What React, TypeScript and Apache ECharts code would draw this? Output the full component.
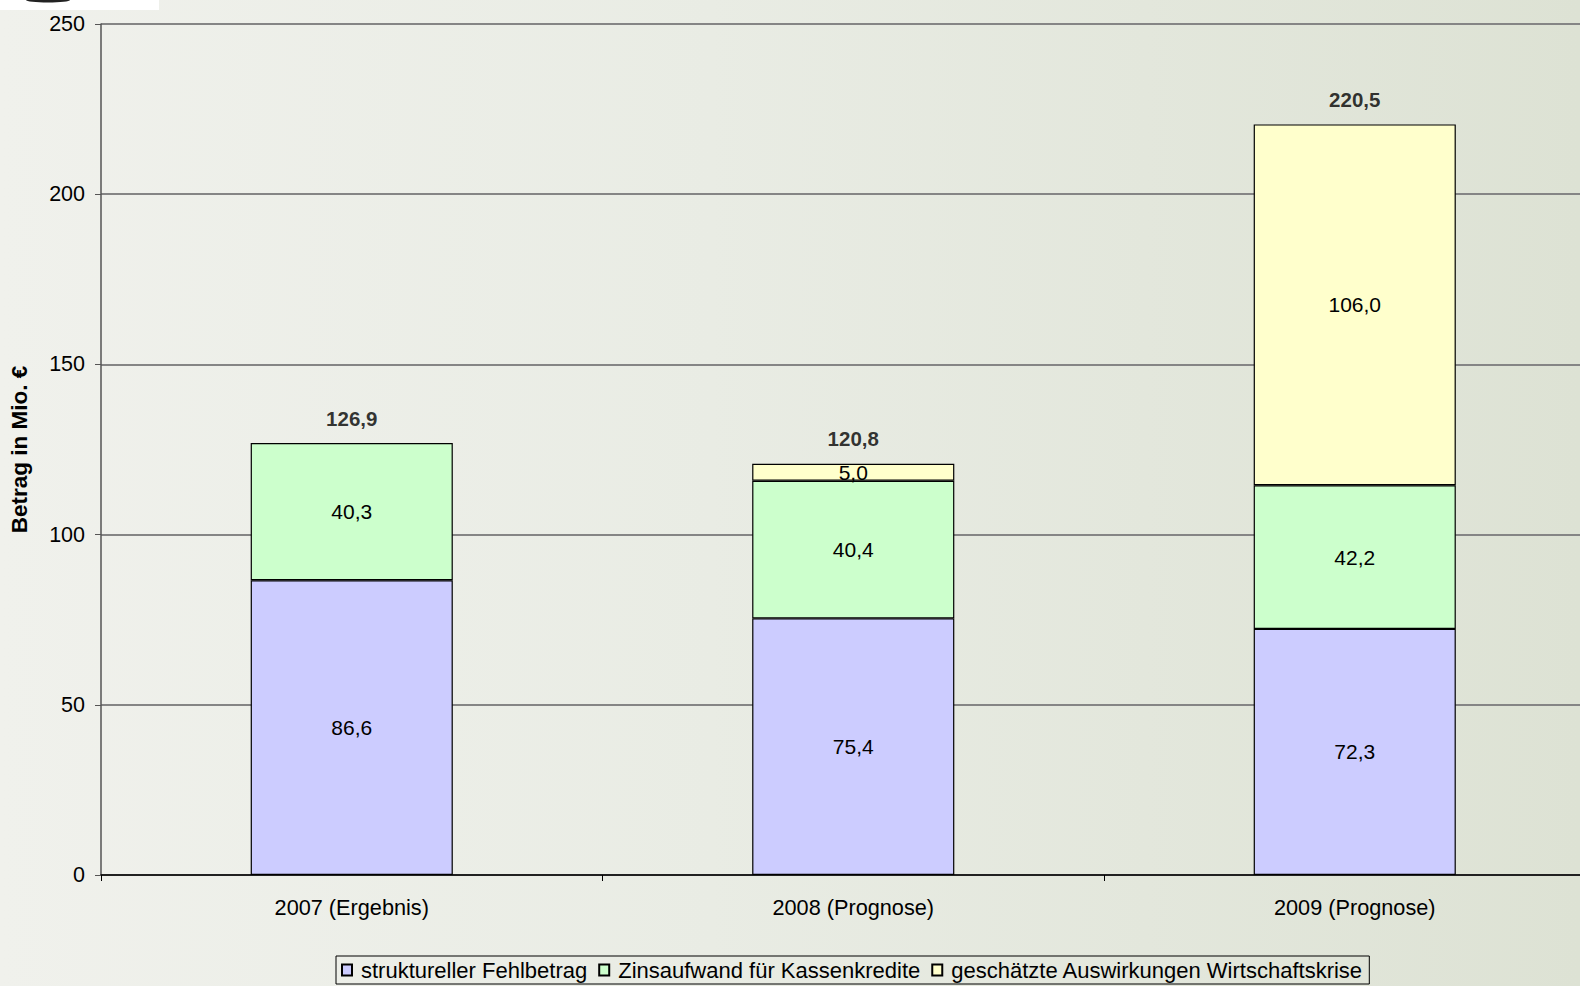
import React, { useEffect, useRef } from "react";
import * as echarts from "echarts";

const categories = ["2007 (Ergebnis)", "2008 (Prognose)", "2009 (Prognose)"];
const seriesNames = [
  "struktureller Fehlbetrag",
  "Zinsaufwand für Kassenkredite",
  "geschätzte Auswirkungen Wirtschaftskrise",
];
const strukturell = [86.6, 75.4, 72.3];
const zinsaufwand = [40.3, 40.4, 42.2];
const krise: (number | null)[] = [null, 5.0, 106.0];
const totals = [126.9, 120.8, 220.5];
const yTicks = { min: 0, max: 250, interval: 50 };

const fmt = (v: number) => v.toFixed(1).replace(".", ",");
const FONT = "'Liberation Sans', Arial, sans-serif";

export default function App() {
  const ref = useRef<HTMLDivElement>(null);
  useEffect(() => {
    if (!ref.current) return;
    const chart = echarts.init(ref.current, undefined, { renderer: "svg" });
    const barLabel = {
      show: true,
      position: "inside",
      fontSize: 21,
      fontFamily: FONT,
      color: "#000",
      formatter: (p: any) => (p.value == null ? "" : fmt(p.value)),
    };
    const colors = ["#ccccff", "#ccffcc", "#ffffcc"];
    const data = [strukturell, zinsaufwand, krise];
    chart.setOption({
      animation: false,
      backgroundColor: "transparent",
      textStyle: { fontFamily: FONT },
      grid: { left: 101, right: 4.5, top: 24, bottom: 986 - 875 },
      legend: {
        data: seriesNames.map((n) => ({ name: n, icon: "rect" })),
        left: 336,
        top: 956,
        padding: [3, 6, 3, 5],
        borderColor: "#000",
        borderWidth: 1,
        itemWidth: 10,
        itemHeight: 11,
        itemGap: 11,
        textStyle: { fontSize: 22, fontFamily: FONT, color: "#000", padding: [0, 0, 0, 4] },
        selectedMode: false,
      },
      graphic: [
        { type: "rect", shape: { x: 0, y: 0, width: 159, height: 10 }, style: { fill: "#fff" } },
        { type: "ellipse", shape: { cx: 48, cy: 0, rx: 22, ry: 2.5 }, style: { fill: "#222" } },
      ],
      xAxis: {
        type: "category",
        data: categories,
        boundaryGap: true,
        axisLine: { lineStyle: { color: "#000", width: 1.5 } },
        axisTick: { show: true, length: 6, lineStyle: { color: "#000" } },
        axisLabel: { fontSize: 21.7, fontFamily: FONT, color: "#000", margin: 21 },
      },
      yAxis: {
        type: "value",
        min: yTicks.min,
        max: yTicks.max,
        interval: yTicks.interval,
        name: "Betrag in Mio. €",
        nameLocation: "middle",
        nameGap: 70,
        nameRotate: 90,
        nameTextStyle: { fontSize: 22.5, fontWeight: "bold", fontFamily: FONT, color: "#000" },
        axisLine: { show: true, lineStyle: { color: "#555", width: 1.5 } },
        axisTick: { show: true, length: 6, lineStyle: { color: "#555" } },
        axisLabel: { fontSize: 21.5, fontFamily: FONT, color: "#000", margin: 16 },
        splitLine: { show: true, lineStyle: { color: "#858585", width: 2 } },
      },
      series: [
        ...seriesNames.map((name, i) => ({
          name,
          type: "bar",
          stack: "total",
          barWidth: "40.3%",
          data: data[i],
          itemStyle: { color: colors[i], borderColor: "#000", borderWidth: 1.2 },
          label: barLabel,
        })),
        {
          name: "Summe",
          type: "scatter",
          data: totals,
          symbolSize: 1,
          itemStyle: { color: "rgba(0,0,0,0)" },
          label: {
            show: true,
            position: "top",
            distance: 14,
            fontSize: 20.5,
            fontWeight: "bold",
            fontFamily: FONT,
            color: "#000",
            formatter: (p: any) => fmt(p.value),
          },
        },
      ],
    });
    return () => chart.dispose();
  }, []);
  return (
    <div
      style={{
        position: "fixed",
        left: 0,
        top: 0,
        width: 1580,
        height: 986,
        overflow: "hidden",
        background: "linear-gradient(90deg, #f0f1ec 0%, #e9ece4 45%, #dde2d4 100%)",
      }}
    >
      <div ref={ref} style={{ width: 1610, height: 986 }} />
    </div>
  );
}
